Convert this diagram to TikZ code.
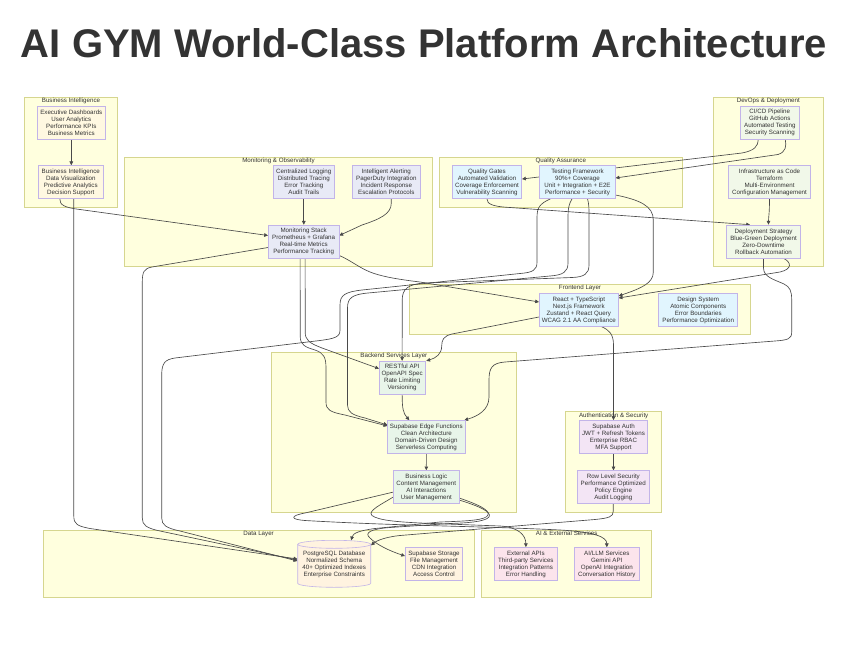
\documentclass[tikz,border=0pt]{standalone}
\usepackage{fontspec}
\setmainfont{Liberation Sans}
\usetikzlibrary{arrows.meta,calc}
\definecolor{clfill}{HTML}{FFFFDE}
\definecolor{clstroke}{HTML}{D6D68F}
\definecolor{ndstroke}{HTML}{C2B4E8}
\definecolor{txt}{HTML}{333333}
\definecolor{edgec}{HTML}{4A4A4A}
\definecolor{biF}{HTML}{FFF8E1}
\definecolor{monF}{HTML}{E8EAF6}
\definecolor{qaF}{HTML}{E1F5FE}
\definecolor{devF}{HTML}{F1F8E9}
\definecolor{feF}{HTML}{E1F5FE}
\definecolor{beF}{HTML}{E8F5E9}
\definecolor{auF}{HTML}{F3E5F5}
\definecolor{dbF}{HTML}{FFF3E0}
\definecolor{aiF}{HTML}{FCE4EC}
\pgfdeclarelayer{bg}
\pgfdeclarelayer{edges}
\pgfdeclarelayer{shapes}
\pgfsetlayers{bg,edges,shapes,main}
\begin{document}
\begin{tikzpicture}[x=1pt,y=-1pt,
  every node/.style={text=txt},
  cluster/.style={draw=clstroke, fill=clfill, line width=0.6pt, inner sep=0pt},
  clabel/.style={font=\fontsize{6.2}{7}\selectfont, inner sep=0pt},
  box/.style={draw=ndstroke, line width=0.6pt, font=\fontsize{6.2}{7}\selectfont, align=center, inner sep=0pt, minimum height=33pt},
  conn/.style={draw=edgec, line width=0.65pt, -{Triangle[length=3.8pt,width=3.6pt]}},
]
\useasboundingbox (0,0) rectangle (848,650);
\begin{pgfonlayer}{bg}
\fill[white] (0,0) rectangle (848,650);
\node[cluster, minimum width=93.4pt, minimum height=110pt] (bizc) at (71,152.3) {};
\node[cluster, minimum width=308.4pt, minimum height=108.7pt] (monc) at (278.5,211.65) {};
\node[cluster, minimum width=243pt, minimum height=50pt] (qac) at (560.8,182.3) {};
\node[cluster, minimum width=110pt, minimum height=168.7pt] (devc) at (768.3,181.65) {};
\node[cluster, minimum width=341.4pt, minimum height=50.3pt] (fec) at (580,309.15) {};
\node[cluster, minimum width=244.3pt, minimum height=160pt] (bec) at (393.85,432.3) {};
\node[cluster, minimum width=96pt, minimum height=100.6pt] (authc) at (613.7,462) {};
\node[cluster, minimum width=430.7pt, minimum height=67.3pt] (datac) at (258.65,563.65) {};
\node[cluster, minimum width=170pt, minimum height=67.3pt] (aic) at (566.7,563.65) {};
\end{pgfonlayer}

\node[clabel] (bizl) at ([yshift=-4pt]bizc.north) {Business Intelligence};
\node[clabel] (monl) at ([yshift=-4pt]monc.north) {Monitoring \& Observability};
\node[clabel] (qal) at ([yshift=-4pt]qac.north) {Quality Assurance};
\node[clabel] (devl) at ([yshift=-4pt]devc.north) {DevOps \& Deployment};
\node[clabel] (fel) at ([yshift=-4pt]fec.north) {Frontend Layer};
\node[clabel] (bel) at ([yshift=-4pt]bec.north) {Backend Services Layer};
\node[clabel] (authl) at ([yshift=-4pt]authc.north) {Authentication \& Security};
\node[clabel] (datal) at ([yshift=-4pt]datac.north) {Data Layer};
\node[clabel] (ail) at ([yshift=-4pt]aic.north) {AI \& External Services};

\node[font=\fontsize{40}{48}\selectfont\bfseries, inner sep=0pt, anchor=base] (title) at (424,57.5) {AI GYM World-Class Platform Architecture};

\node[box, fill=biF, minimum width=68pt] (dash) at (71.3,122.65) {Executive Dashboards\\User Analytics\\Performance KPIs\\Business Metrics};
\node[box, fill=biF, minimum width=65pt] (bi) at (70.8,182) {Business Intelligence\\Data Visualization\\Predictive Analytics\\Decision Support};
\node[box, fill=monF, minimum width=61pt] (log) at (303.8,182) {Centralized Logging\\Distributed Tracing\\Error Tracking\\Audit Trails};
\node[box, fill=monF, minimum width=68pt] (alert) at (386.3,182) {Intelligent Alerting\\PagerDuty Integration\\Incident Response\\Escalation Protocols};
\node[box, fill=monF, minimum width=70.7pt] (mon) at (303.65,241.5) {Monitoring Stack\\Prometheus + Grafana\\Real-time Metrics\\Performance Tracking};
\node[box, fill=qaF, minimum width=69.4pt] (qg) at (487,182) {Quality Gates\\Automated Validation\\Coverage Enforcement\\Vulnerability Scanning};
\node[box, fill=qaF, minimum width=75.6pt] (test) at (577.5,182) {Testing Framework\\90\%+ Coverage\\Unit + Integration + E2E\\Performance + Security};
\node[box, fill=devF, minimum width=59pt] (cicd) at (769.8,122.65) {CI/CD Pipeline\\GitHub Actions\\Automated Testing\\Security Scanning};
\node[box, fill=devF, minimum width=81.6pt] (iac) at (769.5,182) {Infrastructure as Code\\Terraform\\Multi-Environment\\Configuration Management};
\node[box, fill=devF, minimum width=74.4pt] (deploy) at (763.5,241.5) {Deployment Strategy\\Blue-Green Deployment\\Zero-Downtime\\Rollback Automation};
\node[box, fill=feF, minimum width=79pt] (ui) at (578.8,310) {React + TypeScript\\Next.js Framework\\Zustand + React Query\\WCAG 2.1 AA Compliance};
\node[box, fill=feF, minimum width=79pt] (ds) at (698.2,310) {Design System\\Atomic Components\\Error Boundaries\\Performance Optimization};
\node[box, fill=beF, minimum width=45.7pt] (api) at (402.15,377.65) {RESTful API\\OpenAPI Spec\\Rate Limiting\\Versioning};
\node[box, fill=beF, minimum width=77.3pt] (edge) at (426.35,437) {Supabase Edge Functions\\Clean Architecture\\Domain-Driven Design\\Serverless Computing};
\node[box, fill=beF, minimum width=66pt] (bl) at (426.3,487.15) {Business Logic\\Content Management\\AI Interactions\\User Management};
\node[box, fill=auF, minimum width=68.4pt] (auth) at (613.5,437) {Supabase Auth\\JWT + Refresh Tokens\\Enterprise RBAC\\MFA Support};
\node[box, fill=auF, minimum width=72pt] (rls) at (613.3,487.15) {Row Level Security\\Performance Optimized\\Policy Engine\\Audit Logging};
\node[box, draw=none, minimum width=73pt, minimum height=46.7pt] (db) at (334.2,564) {PostgreSQL Database\\Normalized Schema\\40+ Optimized Indexes\\Enterprise Constraints};
\node[box, fill=dbF, minimum width=57.4pt] (sto) at (434,564) {Supabase Storage\\File Management\\CDN Integration\\Access Control};
\node[box, fill=aiF, minimum width=63.7pt] (ext) at (525.85,564) {External APIs\\Third-party Services\\Integration Patterns\\Error Handling};
\node[box, fill=aiF, minimum width=65pt] (ai) at (606.8,564) {AI/LLM Services\\Gemini API\\OpenAI Integration\\Conversation History};

\begin{pgfonlayer}{shapes}
\path[draw=ndstroke, fill=dbF, line width=0.6pt] (297.7,544.3) -- (297.7,583.3) arc[start angle=180, end angle=0, x radius=36.5, y radius=4] -- (370.7,544.3) arc[start angle=0, end angle=-180, x radius=36.5, y radius=4] -- cycle;
\draw[ndstroke, line width=0.6pt] (297.7,544.3) arc[start angle=180, end angle=0, x radius=36.5, y radius=4];
\end{pgfonlayer}

\begin{pgfonlayer}{edges}
% Business Intelligence
\draw[conn] (dash.south) -- (dash.south |- bi.north);
\draw[conn] ([xshift=-11pt]bi.south) .. controls (59.8,205) and (64,207.5) .. (80,209.5) -- ([yshift=6pt]mon.west);
\draw[conn] ([xshift=3pt]bi.south) -- (73.8,516) .. controls (73.8,524) and (77,526) .. (90,528.5) -- ([yshift=5pt]db.west);
% Monitoring
\draw[conn] (log.south) -- (log.south |- mon.north);
\draw[conn] ([xshift=5pt]alert.south) -- (391.3,203) .. controls (391.3,214) and (380,219) .. (362,225) -- ([yshift=6pt]mon.east);
\draw[conn] ([yshift=-6pt]mon.west) -- (152,267) .. controls (144,268.5) and (142.3,272) .. (142.3,282) -- (142.3,518) .. controls (142.3,525) and (146,528) .. (160,531) -- ([yshift=4pt]db.west);
\draw[conn] ([yshift=-14pt]mon.east) .. controls (350,260) and (358,267) .. (370,272) .. controls (380,276) and (395,279) .. (420,282) -- ([yshift=8pt]ui.west);
\draw[conn] ([xshift=1.5pt]mon.south) -- (305.2,332) .. controls (305.2,340) and (309,343) .. (322,348) -- ([yshift=9pt]api.west);
\draw[conn] ([xshift=-3.5pt]mon.south) -- (300.2,336) .. controls (300.2,345) and (305,347) .. (315,350) .. controls (323.5,353) and (326,357) .. (326,368) -- (326,402) .. controls (326,410) and (330,412) .. (345,415) -- ([yshift=11pt]edge.west);
% Testing
\draw[conn] ([xshift=-27pt]test.south) .. controls (539,204) and (537,208) .. (537,218) -- (537,262) .. controls (537,270) and (533,272.5) .. (520,273.5) -- (362,290) .. controls (345,292) and (340,295) .. (340,305) -- (340,330) .. controls (340,337) and (335,338.5) .. (320,340.5) -- (175,358) .. controls (165,359.5) and (161.7,363) .. (161.7,375) -- (161.7,518) .. controls (161.7,525) and (166,528) .. (180,531) -- ([yshift=3pt]db.west);
\draw[conn] ([xshift=-5.5pt]test.south) .. controls (569,204) and (568,208) .. (568,218) -- (568,263) .. controls (568,272) and (563,275) .. (550,276) -- (368,293) .. controls (352,294.5) and (347.5,298) .. (347.5,308) -- (347.5,405) .. controls (347.5,412) and (352,415) .. (365,418) -- ([yshift=12pt]edge.west);
\draw[conn] ([xshift=10pt]test.south) .. controls (589,204) and (589,208) .. (589,218) -- (589,265) .. controls (589,274) and (584,277) .. (572,277.5) -- (425,283) .. controls (408,284) and (402.2,289) .. (402.2,300) -- (api.north);
\draw[conn] ([yshift=-13pt]test.east) .. controls (640,200) and (653.3,206) .. (653.3,220) -- (653.3,272) .. controls (653.3,283) and (642,288) .. ([yshift=14pt]ui.east);
% DevOps
\draw[conn] ([xshift=-11.5pt]cicd.south) .. controls (758,146) and (755,150.5) .. (742,153) -- ([yshift=3pt]qg.east);
\draw[conn] ([xshift=15.5pt]cicd.south) .. controls (786.5,146) and (786,152) .. (778,154.5) -- ([yshift=4pt]test.east);
\draw[conn] (qg.south) .. controls (487,204) and (492,206.5) .. (510,207.5) -- ([xshift=-13.5pt]deploy.north);
\draw[conn] (iac.south) .. controls (769.5,214) and (768.5,217) .. ([xshift=5pt]deploy.north);
\draw[conn] ([xshift=20pt]deploy.south) .. controls (791,262) and (793,269) .. (780,272) -- ([yshift=12pt]ui.east);
\draw[conn] (deploy.south) -- (763.5,268) .. controls (763.5,277) and (774,279.5) .. (784,284) .. controls (790,287) and (791.7,291) .. (791.7,300) -- (791.7,332) .. controls (791.7,339) and (788,340) .. (775,341) -- (505,362) .. controls (492,363) and (489,368) .. (489,380) -- (489,397) .. controls (489,410) and (478,416) .. ([xshift=-1pt]edge.north east);
% Frontend and backend
\draw[conn] ([yshift=-7pt]ui.west) -- (452,334) .. controls (443.5,336) and (441.7,340) .. (441.7,346) .. controls (441.7,354) and (436,358) .. ([xshift=1pt]api.north east);
\draw[conn] ([xshift=23pt]ui.south) .. controls (609,330) and (613.5,334) .. (613.5,345) -- (auth.north);
\draw[conn] (api.south) .. controls (402.2,408) and (403,413) .. ([xshift=-17pt]edge.north);
\draw[conn] (edge.south) -- (bl.north);
\draw[conn] (auth.south) -- (auth.south |- rls.north);
\draw[conn] (rls.south) -- (613.3,511) .. controls (613.3,517) and (609,518) .. (595,519.5) -- (400,535.5) .. controls (385,537) and (376,541) .. ([yshift=-5pt]db.north east);
\draw[conn] ([yshift=-11pt]bl.east) .. controls (478,504.5) and (490,510) .. (488,515) .. controls (486,520) and (470,521) .. (440,522) -- (375,528.5) .. controls (360,530.5) and (353,533) .. ([xshift=17pt]db.north);
\draw[conn] ([yshift=-13pt]bl.east) .. controls (480,506.5) and (492,512) .. (489,517) .. controls (485,522) and (465,523) .. (450,523.5) -- (390,527.5) .. controls (370,529) and (364,533) .. (370,538) .. controls (377,545) and (390,551) .. ([yshift=8pt]sto.west);
\draw[conn] ([yshift=-10pt]bl.west) .. controls (382,504) and (367,511) .. (372,515.5) .. controls (378,520.5) and (400,522) .. (420,523) -- (500,526) .. controls (518,527) and (525.85,535) .. (ext.north);
\draw[conn] ([yshift=-5pt]bl.west) -- (305,513) .. controls (289,516) and (291,519.5) .. (305,520.5) .. controls (400,526) and (480,526) .. (560,530) .. controls (595,532) and (606.8,537) .. (ai.north);
\end{pgfonlayer}
\end{tikzpicture}
\end{document}
